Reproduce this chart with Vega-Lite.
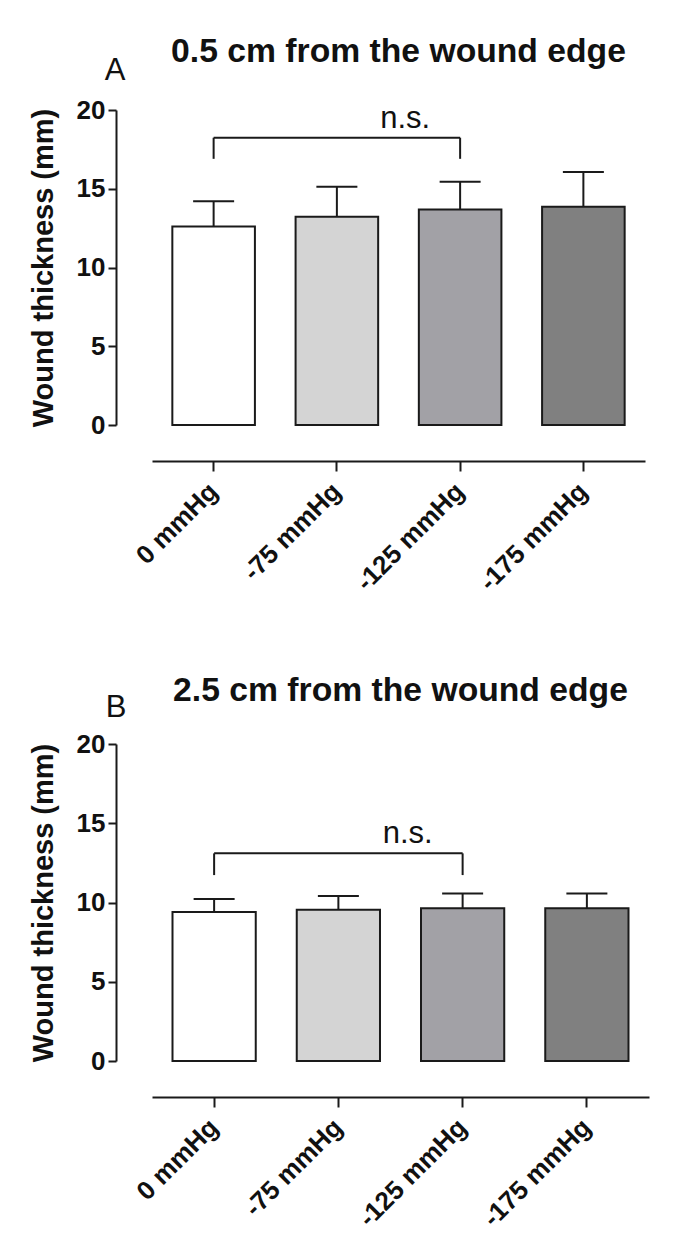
{
  "$schema": "https://vega.github.io/schema/vega-lite/v6.json",
  "padding": {"left": 29, "top": 35, "right": 5, "bottom": 5},
  "background": "white",
  "spacing": 78,
  "datasets": {
    "barsA": [
      {"group": "0 mmHg", "mean": 12.6, "upper": 14.2},
      {"group": "-75 mmHg", "mean": 13.23, "upper": 15.13},
      {"group": "-125 mmHg", "mean": 13.69, "upper": 15.45},
      {"group": "-175 mmHg", "mean": 13.86, "upper": 16.06}
    ],
    "barsB": [
      {"group": "0 mmHg", "mean": 9.4, "upper": 10.22},
      {"group": "-75 mmHg", "mean": 9.55, "upper": 10.41},
      {"group": "-125 mmHg", "mean": 9.63, "upper": 10.56},
      {"group": "-175 mmHg", "mean": 9.63, "upper": 10.56}
    ],
    "bracketA": [{"from": "0 mmHg", "to": "-125 mmHg", "top": 18.24, "leg": 16.9, "label": "n.s.", "labelY": 18.86, "panel": "A", "panelY": 21.9}],
    "bracketB": [{"from": "0 mmHg", "to": "-125 mmHg", "top": 13.1, "leg": 11.73, "label": "n.s.", "labelY": 13.73, "panel": "B", "panelY": 21.72}]
  },
  "vconcat": [
    {
      "width": 493,
      "height": 315,
      "title": {"text": "0.5 cm from the wound edge", "offset": -14},
      "layer": [
        {
          "data": {"name": "barsA"},
          "mark": {"type": "bar", "stroke": "#1a1a1a", "strokeWidth": 2},
          "encoding": {
            "x": {"field": "group", "type": "nominal", "sort": null,
                  "scale": {"domain": ["0 mmHg", "-75 mmHg", "-125 mmHg", "-175 mmHg"], "paddingInner": 0.33, "paddingOuter": 0.165},
                  "axis": {"title": null, "offset": 36, "labelAngle": -45, "labelAlign": "right", "labelBaseline": "middle", "labelPadding": 16, "tickSize": 10}},
            "y": {"field": "mean", "type": "quantitative",
                  "scale": {"domain": [0, 20], "nice": false},
                  "axis": {"title": "Wound thickness (mm)", "offset": 36, "values": [0, 5, 10, 15, 20], "tickSize": 8, "labelPadding": 3, "titlePadding": 18}},
            "color": {"field": "group", "type": "nominal", "legend": null,
                      "scale": {"domain": ["0 mmHg", "-75 mmHg", "-125 mmHg", "-175 mmHg"], "range": ["#ffffff", "#d4d4d4", "#a2a1a6", "#808080"]}}
          }
        },
        {
          "data": {"name": "barsA"},
          "mark": {"type": "rule", "color": "#1a1a1a", "strokeWidth": 2},
          "encoding": {
            "x": {"field": "group", "type": "nominal", "sort": null},
            "y": {"field": "mean", "type": "quantitative"},
            "y2": {"field": "upper"}
          }
        },
        {
          "data": {"name": "barsA"},
          "mark": {"type": "tick", "color": "#1a1a1a", "size": 41, "thickness": 2, "opacity": 1},
          "encoding": {
            "x": {"field": "group", "type": "nominal", "sort": null},
            "y": {"field": "upper", "type": "quantitative"}
          }
        },
        {
          "data": {"name": "bracketA"},
          "mark": {"type": "rule", "color": "#1a1a1a", "strokeWidth": 2},
          "encoding": {
            "x": {"field": "from", "type": "nominal"},
            "x2": {"field": "to"},
            "y": {"field": "top", "type": "quantitative"}
          }
        },
        {
          "data": {"name": "bracketA"},
          "mark": {"type": "rule", "color": "#1a1a1a", "strokeWidth": 2},
          "encoding": {
            "x": {"field": "from", "type": "nominal"},
            "y": {"field": "leg", "type": "quantitative"},
            "y2": {"field": "top"}
          }
        },
        {
          "data": {"name": "bracketA"},
          "mark": {"type": "rule", "color": "#1a1a1a", "strokeWidth": 2},
          "encoding": {
            "x": {"field": "to", "type": "nominal"},
            "y": {"field": "leg", "type": "quantitative"},
            "y2": {"field": "top"}
          }
        },
        {
          "data": {"name": "bracketA"},
          "mark": {"type": "text", "font": "Liberation Sans", "fontSize": 31, "align": "center", "baseline": "alphabetic", "dx": -55, "color": "#111"},
          "encoding": {
            "x": {"field": "to", "type": "nominal"},
            "y": {"field": "labelY", "type": "quantitative"},
            "text": {"field": "label"}
          }
        },
        {
          "data": {"name": "bracketA"},
          "mark": {"type": "text", "font": "Liberation Sans", "fontSize": 31, "align": "center", "baseline": "alphabetic", "dx": -98.6, "color": "#111"},
          "encoding": {
            "x": {"field": "from", "type": "nominal"},
            "y": {"field": "panelY", "type": "quantitative"},
            "text": {"field": "panel"}
          }
        }
      ]
    },
    {
      "width": 497,
      "height": 317,
      "title": {"text": "2.5 cm from the wound edge", "offset": -16},
      "layer": [
        {
          "data": {"name": "barsB"},
          "mark": {"type": "bar", "stroke": "#1a1a1a", "strokeWidth": 2},
          "encoding": {
            "x": {"field": "group", "type": "nominal", "sort": null,
                  "scale": {"domain": ["0 mmHg", "-75 mmHg", "-125 mmHg", "-175 mmHg"], "paddingInner": 0.33, "paddingOuter": 0.165},
                  "axis": {"title": null, "offset": 36, "labelAngle": -45, "labelAlign": "right", "labelBaseline": "middle", "labelPadding": 16, "tickSize": 10}},
            "y": {"field": "mean", "type": "quantitative",
                  "scale": {"domain": [0, 20], "nice": false},
                  "axis": {"title": "Wound thickness (mm)", "offset": 36, "values": [0, 5, 10, 15, 20], "tickSize": 8, "labelPadding": 3, "titlePadding": 18}},
            "color": {"field": "group", "type": "nominal", "legend": null,
                      "scale": {"domain": ["0 mmHg", "-75 mmHg", "-125 mmHg", "-175 mmHg"], "range": ["#ffffff", "#d4d4d4", "#a2a1a6", "#808080"]}}
          }
        },
        {
          "data": {"name": "barsB"},
          "mark": {"type": "rule", "color": "#1a1a1a", "strokeWidth": 2},
          "encoding": {
            "x": {"field": "group", "type": "nominal", "sort": null},
            "y": {"field": "mean", "type": "quantitative"},
            "y2": {"field": "upper"}
          }
        },
        {
          "data": {"name": "barsB"},
          "mark": {"type": "tick", "color": "#1a1a1a", "size": 41, "thickness": 2, "opacity": 1},
          "encoding": {
            "x": {"field": "group", "type": "nominal", "sort": null},
            "y": {"field": "upper", "type": "quantitative"}
          }
        },
        {
          "data": {"name": "bracketB"},
          "mark": {"type": "rule", "color": "#1a1a1a", "strokeWidth": 2},
          "encoding": {
            "x": {"field": "from", "type": "nominal"},
            "x2": {"field": "to"},
            "y": {"field": "top", "type": "quantitative"}
          }
        },
        {
          "data": {"name": "bracketB"},
          "mark": {"type": "rule", "color": "#1a1a1a", "strokeWidth": 2},
          "encoding": {
            "x": {"field": "from", "type": "nominal"},
            "y": {"field": "leg", "type": "quantitative"},
            "y2": {"field": "top"}
          }
        },
        {
          "data": {"name": "bracketB"},
          "mark": {"type": "rule", "color": "#1a1a1a", "strokeWidth": 2},
          "encoding": {
            "x": {"field": "to", "type": "nominal"},
            "y": {"field": "leg", "type": "quantitative"},
            "y2": {"field": "top"}
          }
        },
        {
          "data": {"name": "bracketB"},
          "mark": {"type": "text", "font": "Liberation Sans", "fontSize": 31, "align": "center", "baseline": "alphabetic", "dx": -55, "color": "#111"},
          "encoding": {
            "x": {"field": "to", "type": "nominal"},
            "y": {"field": "labelY", "type": "quantitative"},
            "text": {"field": "label"}
          }
        },
        {
          "data": {"name": "bracketB"},
          "mark": {"type": "text", "font": "Liberation Sans", "fontSize": 31, "align": "center", "baseline": "alphabetic", "dx": -98, "color": "#111"},
          "encoding": {
            "x": {"field": "from", "type": "nominal"},
            "y": {"field": "panelY", "type": "quantitative"},
            "text": {"field": "panel"}
          }
        }
      ]
    }
  ],
  "config": {
    "view": {"stroke": null},
    "title": {"font": "Liberation Sans", "fontSize": 33.7, "fontWeight": "bold", "color": "#111", "anchor": "middle"},
    "axis": {
      "labelFont": "Liberation Sans", "labelFontWeight": "bold", "labelFontSize": 26, "labelColor": "#111",
      "titleFont": "Liberation Sans", "titleFontWeight": "bold", "titleFontSize": 29, "titleColor": "#111",
      "domainColor": "#1a1a1a", "domainWidth": 2, "tickColor": "#1a1a1a", "tickWidth": 2, "grid": false
    }
  }
}
